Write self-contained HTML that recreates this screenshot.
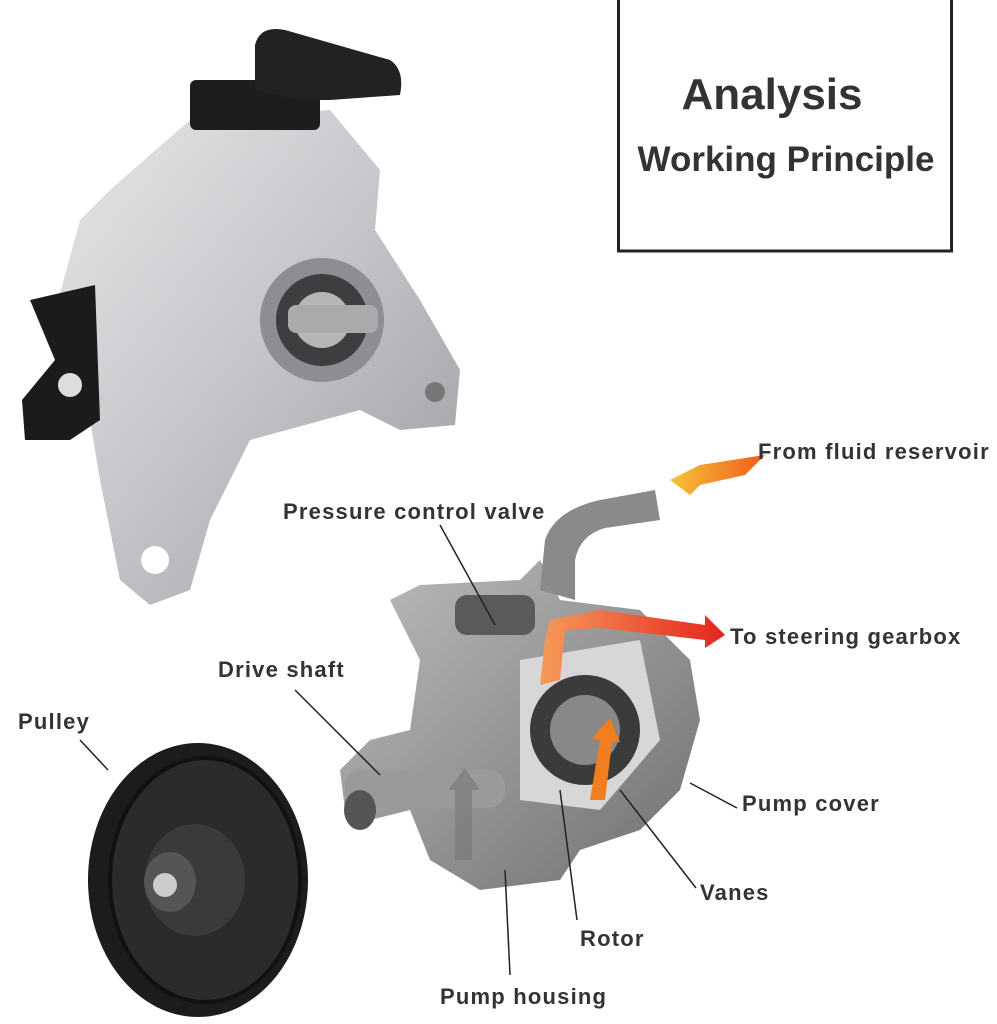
<!DOCTYPE html>
<html><head><meta charset="utf-8"><style>
html,body{margin:0;padding:0;background:#fff;}
svg{display:block;}
text{font-family:"Liberation Sans",sans-serif;font-weight:bold;fill:#333;}
.l{font-size:22px;letter-spacing:1.2px;}
</style></head><body>
<svg width="997" height="1024" viewBox="0 0 997 1024">
<defs>
<linearGradient id="al" x1="0" y1="0" x2="1" y2="1"><stop offset="0" stop-color="#e8e8ea"/><stop offset="0.5" stop-color="#c4c5c8"/><stop offset="1" stop-color="#9a9b9e"/></linearGradient>
<linearGradient id="cut" x1="0" y1="0" x2="1" y2="1"><stop offset="0" stop-color="#bdbdbd"/><stop offset="1" stop-color="#6f6f6f"/></linearGradient>
<linearGradient id="og" x1="0" y1="0" x2="1" y2="0"><stop offset="0" stop-color="#f7c23a"/><stop offset="1" stop-color="#ef5b1a"/></linearGradient>
<linearGradient id="rg" x1="0" y1="0" x2="1" y2="0"><stop offset="0" stop-color="#f59a5a"/><stop offset="1" stop-color="#e5251e"/></linearGradient>
</defs>
<rect x="618.5" y="-3" width="333" height="254" fill="none" stroke="#222" stroke-width="3"/>
<text x="772" y="109" font-size="44" text-anchor="middle">Analysis</text>
<text x="786" y="171" font-size="35" text-anchor="middle">Working Principle</text>

<path d="M110 190 L190 120 L330 110 L380 170 L375 230 L420 300 L460 370 L455 425 L400 430 L360 410 L250 440 L210 520 L190 590 L150 605 L120 580 L100 480 L90 420 L50 330 L80 220 Z" fill="url(#al)"/>
<circle cx="322" cy="320" r="62" fill="#8d8e91"/>
<circle cx="322" cy="320" r="46" fill="#3d3e40"/>
<circle cx="322" cy="320" r="28" fill="#b5b6b8"/>
<rect x="288" y="305" width="90" height="28" rx="8" fill="#a9aaac"/>
<circle cx="155" cy="560" r="14" fill="#fff"/>
<circle cx="435" cy="392" r="10" fill="#777"/>
<rect x="190" y="80" width="130" height="50" rx="6" fill="#1d1d1d"/>
<path d="M255 90 L255 45 Q260 25 285 30 L390 60 Q405 70 400 95 L330 100 L300 100 Z" fill="#222"/>
<path d="M30 300 L95 285 L100 420 L70 440 L25 440 L22 400 L55 360 Z" fill="#1b1b1b"/>
<circle cx="70" cy="385" r="12" fill="#ddd"/>

<ellipse cx="198" cy="880" rx="110" ry="137" fill="#1c1c1c"/>
<ellipse cx="205" cy="880" rx="95" ry="122" fill="#2b2b2b" stroke="#111" stroke-width="4"/>
<ellipse cx="195" cy="880" rx="50" ry="56" fill="#3a3a3a"/>
<ellipse cx="170" cy="882" rx="26" ry="30" fill="#555"/>
<circle cx="165" cy="885" r="12" fill="#ccc"/>

<path d="M390 600 L420 585 L520 580 L540 560 L560 600 L640 610 L690 660 L700 720 L680 790 L640 830 L580 850 L560 880 L480 890 L430 860 L410 810 L370 820 L345 810 L340 770 L370 740 L410 730 L420 660 Z" fill="url(#cut)"/>
<path d="M520 660 L640 640 L660 740 L600 810 L520 800 Z" fill="#d7d7d7"/>
<circle cx="585" cy="730" r="55" fill="#3b3b3b"/>
<circle cx="585" cy="730" r="35" fill="#888"/>
<rect x="345" y="770" width="160" height="38" rx="16" fill="#9a9a9a"/>
<ellipse cx="360" cy="810" rx="16" ry="20" fill="#555"/>
<path d="M540 590 L545 540 Q555 510 600 500 L655 490 L660 520 L605 528 Q580 535 575 560 L575 600 Z" fill="#8a8a8a"/>
<rect x="455" y="595" width="80" height="40" rx="12" fill="#5a5a5a"/>
<path d="M670 480 L700 465 L765 455 L745 475 L700 485 L690 495 Z" fill="url(#og)"/>
<path d="M545 640 L550 620 L600 610 L705 625 L705 615 L725 635 L705 648 L705 640 L600 628 L565 630 L560 680 L540 685 Z" fill="url(#rg)"/>
<path d="M590 800 L600 740 L592 738 L610 718 L620 742 L612 742 L605 800 Z" fill="#f07e1f"/>
<path d="M455 860 L455 790 L448 790 L465 768 L480 790 L472 790 L472 860 Z" fill="#777" opacity="0.6"/>

<g stroke="#222" stroke-width="1.5" fill="none">
<line x1="440" y1="525" x2="495" y2="625"/>
<line x1="295" y1="690" x2="380" y2="775"/>
<line x1="80" y1="740" x2="108" y2="770"/>
<line x1="737" y1="808" x2="690" y2="783"/>
<line x1="696" y1="888" x2="620" y2="790"/>
<line x1="577" y1="920" x2="560" y2="790"/>
<line x1="510" y1="975" x2="505" y2="870"/>
</g>

<text class="l" x="758" y="459">From fluid reservoir</text>
<text class="l" x="283" y="519">Pressure control valve</text>
<text class="l" x="730" y="644">To steering gearbox</text>
<text class="l" x="218" y="677">Drive shaft</text>
<text class="l" x="18" y="729">Pulley</text>
<text class="l" x="742" y="811">Pump cover</text>
<text class="l" x="700" y="900">Vanes</text>
<text class="l" x="580" y="946">Rotor</text>
<text class="l" x="440" y="1004">Pump housing</text>
</svg>
</body></html>
